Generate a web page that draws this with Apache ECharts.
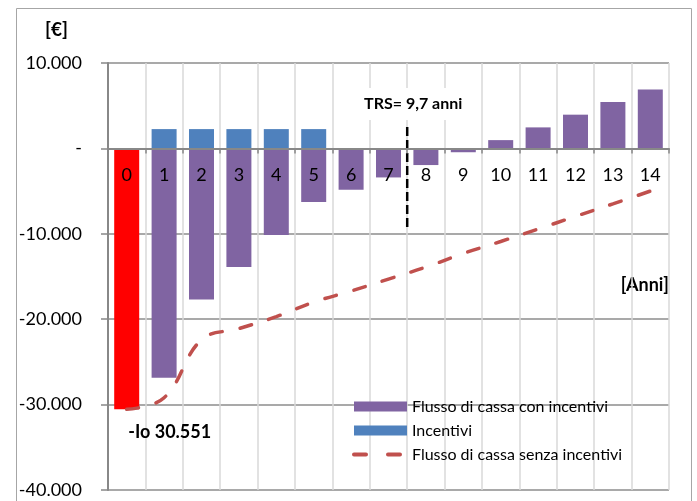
<!DOCTYPE html>
<html>
<head>
<meta charset="utf-8">
<script src="https://cdn.jsdelivr.net/npm/echarts@6/dist/echarts.min.js"></script>
<style>
html,body{margin:0;padding:0;background:#fff;}
#chart{width:697px;height:501px;}
</style>
</head>
<body>
<div id="chart"></div>
<script>
const categories = ['0','1','2','3','4','5','6','7','8','9','10','11','12','13','14'];
const investment = [-30551,'-','-','-','-','-','-','-','-','-','-','-','-','-','-'];
const cashFlowWithIncentives = ['-',-26850,-17700,-13900,-10150,-6290,-4840,-3400,-1950,-450,970,2460,3950,5430,6900];
const incentives = ['-',2260,2260,2260,2260,2260,'-','-','-','-','-','-','-','-','-'];
const cashFlowWithoutIncentives = [-30551,-29200,-22400,-21100,-19700,-18000,-16700,-15300,-13900,-12300,-10900,-9450,-7960,-6500,-5000];
const trsLine = [[7.5,2500],[7.5,-9400]];
const yTicks = {min:-40000,max:10000,interval:10000};
const FONT = 'Lato';

const GRID = {left:108, right:28, top:63, bottom:11};
const gridH = 501 - GRID.top - GRID.bottom;
// place category axis on the zero line of the value axis
const zeroOffset = -gridH * (0 - yTicks.min) / (yTicks.max - yTicks.min);

const chart = echarts.init(document.getElementById('chart'), null, {renderer:'canvas'});

function fmtY(v){
  if (v === 0) return '-';
  const s = Math.abs(v).toString().replace(/\B(?=(\d{3})+(?!\d))/g,'.');
  return (v<0?'-':'') + s;
}

chart.setOption({
  animation:false,
  textStyle:{fontFamily:FONT},
  grid:Object.assign({containLabel:false, outerBoundsMode:'none'}, GRID),
  legend:{
    orient:'vertical', left:352, top:397, padding:0,
    itemWidth:53, itemHeight:10, itemGap:5,
    textStyle:{fontFamily:FONT, fontSize:16, color:'#000', lineHeight:19},
    data:[
      {name:'Flusso di cassa con incentivi', icon:'rect'},
      {name:'Incentivi', icon:'rect'},
      {name:'Flusso di cassa senza incentivi', itemStyle:{opacity:0}, lineStyle:{type:[12,22], width:4, cap:'round', color:'#c0504d'}}
    ]
  },
  xAxis:[{
    // background axis: vertical gridlines only
    type:'category', data:categories, boundaryGap:true, position:'bottom', offset:zeroOffset,
    axisLine:{show:false, onZero:false},
    axisTick:{show:false},
    axisLabel:{show:false},
    splitLine:{show:true, lineStyle:{color:'#d9d9d9', width:1.5}}
  },{
    type:'value', min:-0.5, max:14.5, show:false,
    axisLine:{onZero:false}
  },{
    // foreground axis: zero line, ticks and category labels drawn over bars
    type:'category', data:categories, boundaryGap:true, position:'bottom', offset:zeroOffset, z:10,
    axisLine:{show:true, onZero:false, lineStyle:{color:'#888', width:2}},
    axisTick:{show:true, length:5, lineStyle:{color:'#888', width:1.5}},
    axisLabel:{show:true, color:'#000', fontSize:18, fontFamily:FONT, margin:18},
    splitLine:{show:false}
  }],
  yAxis:{
    type:'value', min:yTicks.min, max:yTicks.max, interval:yTicks.interval,
    axisLine:{show:true, onZero:false, lineStyle:{color:'#888', width:2}},
    axisTick:{show:true, length:7, lineStyle:{color:'#888', width:1.5}},
    axisLabel:{color:'#000', fontSize:18, fontFamily:FONT, margin:26, formatter:fmtY},
    splitLine:{show:true, lineStyle:{color:'#8c8c8c', width:1.5}}
  },
  series:[
    {
      name:'Investimento', type:'bar', data:investment, barWidth:25, barGap:'-100%',
      itemStyle:{color:'#ff0000'}
    },
    {
      name:'Flusso di cassa con incentivi', type:'bar', data:cashFlowWithIncentives, barWidth:25, barGap:'-100%',
      itemStyle:{color:'#8064a2'}
    },
    {
      name:'Incentivi', type:'bar', data:incentives, barWidth:25, barGap:'-100%',
      itemStyle:{color:'#4f81bd'}
    },
    {
      name:'Flusso di cassa senza incentivi', type:'line', data:cashFlowWithoutIncentives.map((v,i)=> i===0 ? {
        value:v,
        label:{show:true, position:'bottom', offset:[43,9], formatter:'-Io 30.551', fontFamily:FONT, fontWeight:'bold', fontSize:18, color:'#000'}
      } : v),
      smooth:0.4, symbol:'circle', symbolSize:0, showSymbol:true, z:5,
      lineStyle:{color:'#c0504d', width:3.5, type:[12,18], cap:'round'},
      itemStyle:{color:'#c0504d'}
    },
    {
      name:'TRS', type:'line', xAxisIndex:1, data:trsLine.map((p,i)=> i===0 ? {
        value:p,
        label:{show:true, position:'top', offset:[6,-2], formatter:'TRS= 9,7 anni', fontFamily:FONT, fontWeight:'bold', fontSize:16, color:'#000', backgroundColor:'#fff', padding:[8,14]}
      } : {value:p}),
      symbol:'circle', symbolSize:0, showSymbol:true, z:6, silent:true,
      lineStyle:{color:'#000', width:2.5, type:[9,4]}
    }
  ],
  graphic:[
    {type:'rect', shape:{x:16.5, y:8.5, width:675, height:510}, style:{fill:'none', stroke:'#a6a6a6', lineWidth:1}, silent:true, z:-10},
    {type:'text', left:45, top:20, style:{text:'[€]', font:'bold 19px '+FONT, fill:'#000'}},
    {type:'text', right:28, top:276, style:{text:'[Anni]', font:'bold 18px '+FONT, fill:'#000'}}
  ]
});
</script>
</body>
</html>
